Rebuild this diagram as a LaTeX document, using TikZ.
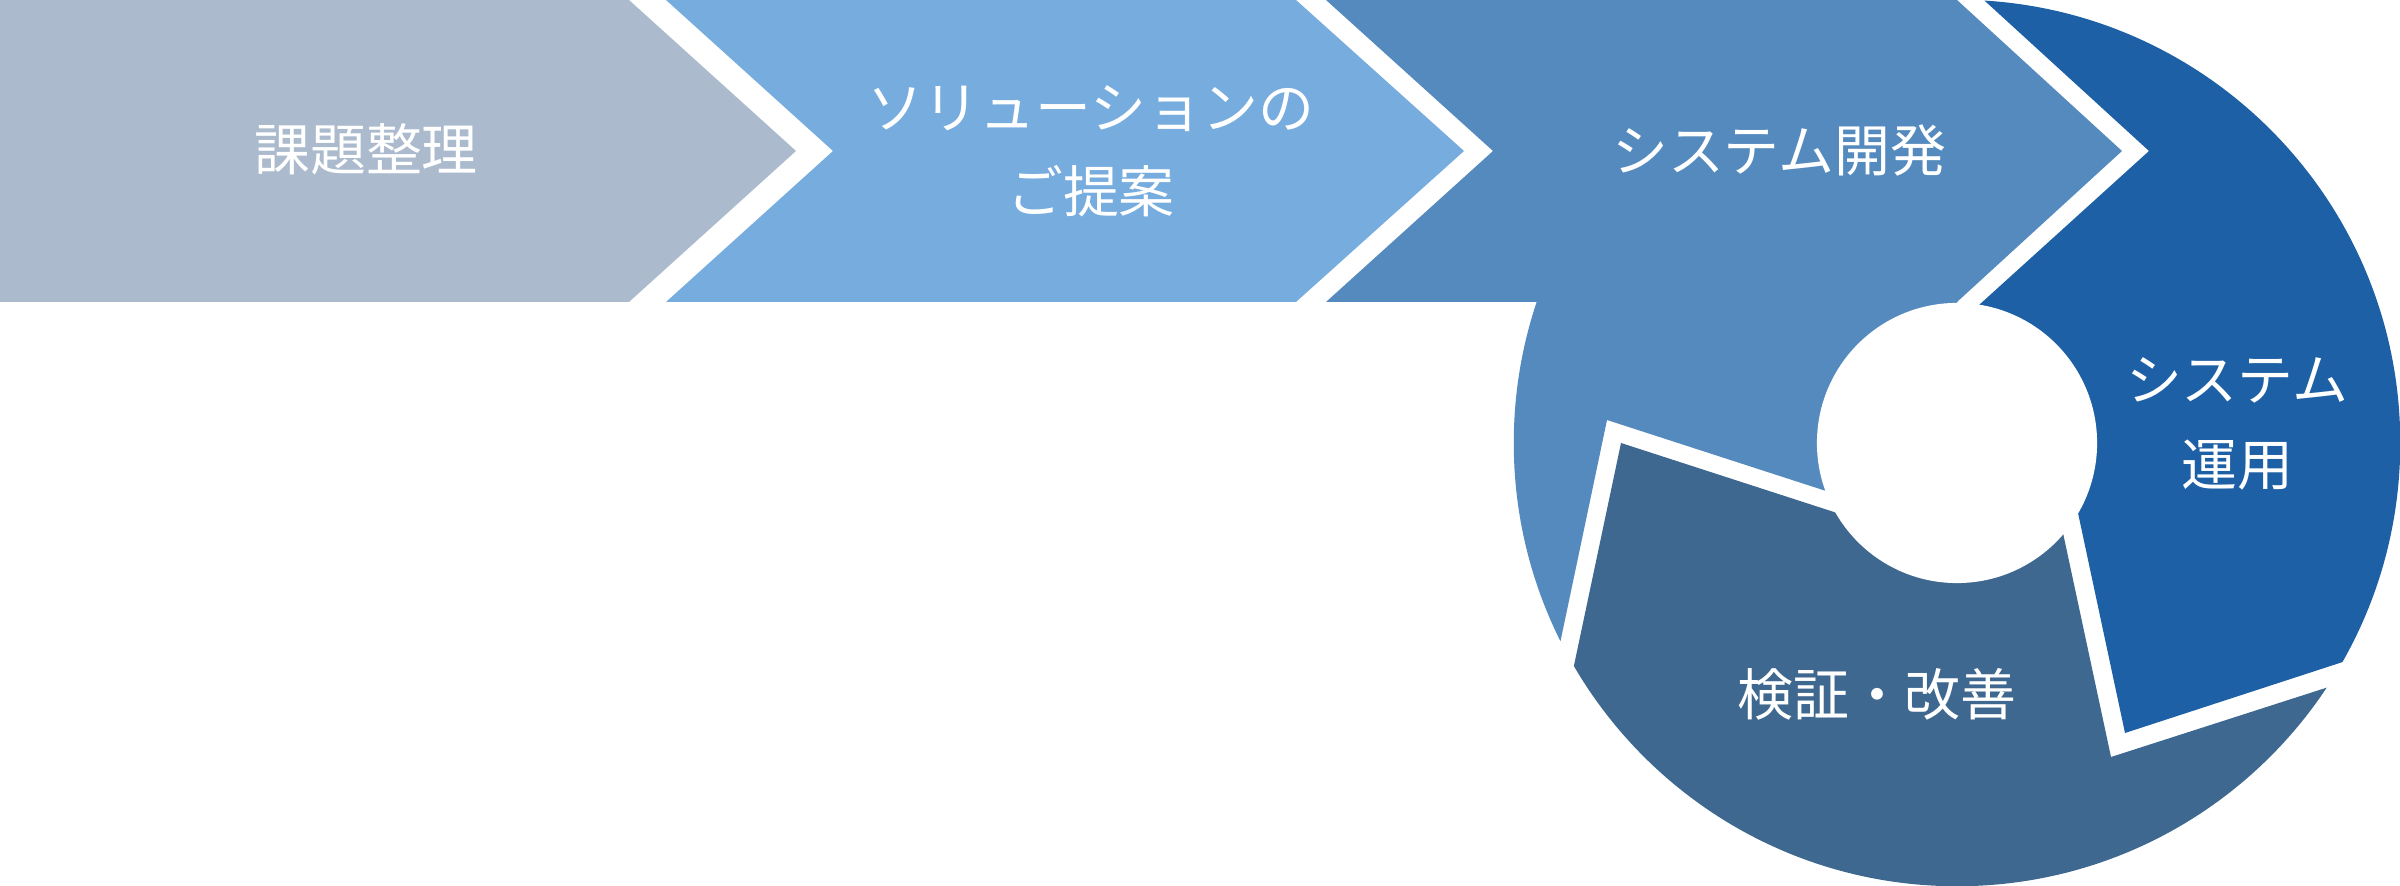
\documentclass[tikz,border=0pt]{standalone}
\usepackage{fontspec}
\newfontfamily\jpfont{Noto Sans CJK JP}
\definecolor{cgray}{RGB}{171,187,205}
\definecolor{clight}{RGB}{119,172,222}
\definecolor{cmed}{RGB}{85,138,190}
\definecolor{cdark}{RGB}{29,96,165}
\definecolor{cslate}{RGB}{62,104,143}
\begin{document}
\begin{tikzpicture}[x=0.01cm,y=-0.01cm,
  lbl/.style={text=white, font=\jpfont\fontsize{15.9pt}{24pt}\selectfont, align=center, inner sep=0pt}]
\useasboundingbox (0,0) rectangle (2400,886);
\coordinate (C) at (1957,443);
% chevrons
\fill[cgray] (0,0) -- (629,0) -- (796,151) -- (629,302) -- (0,302) -- cycle;
\fill[clight] (666,0) -- (1296,0) -- (1464,151) -- (1296,302) -- (666,302) -- (833,151) -- cycle;
\fill[cmed] (1326,0) -- (1957,0) -- (2122,151) -- (1957,302) -- (1326,302) -- (1493,151) -- cycle;
% ring segments
\begin{scope}
  \clip (C) circle[radius=4.43cm];
  \fill[cmed] (1546,710) -- (1607,420) -- (1826,491) -- (C) -- (1957,302) -- (1400,302) -- (1400,710) -- cycle;
  \fill[cdark] (1951,-30) -- (2149,151) -- (1979,305) -- (C) -- (2078,513) -- (2125,733) -- (2450,627) -- (2450,-30) -- cycle;
  \fill[cslate] (C) -- (1837,513) -- (1621,443) -- (1554,760) -- (1554,950) -- (2450,950) -- (2450,648) -- (2111,757) -- (2063,533) -- cycle;
\end{scope}
\fill[white] (C) circle[radius=1.40cm];
% labels
\node[lbl] (t1) at (366,149) {課題整理};
\node[lbl] (t2) at (1091,151) {ソリューションの\\ご提案};
\node[lbl] (t3) at (1779,150) {システム開発};
\node[lbl] (t4) at (2237,424) {システム\\運用};
\node[lbl] (t5) at (1877,694) {検証・改善};
\end{tikzpicture}
\end{document}
